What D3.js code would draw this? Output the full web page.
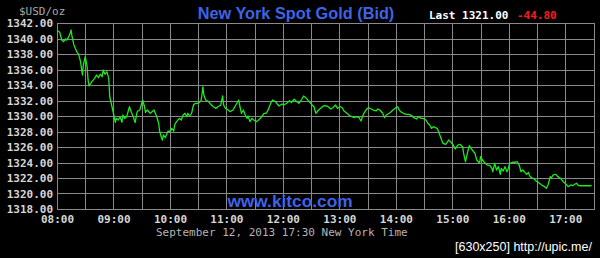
<!DOCTYPE html>
<html><head><meta charset="utf-8">
<script src="https://cdn.jsdelivr.net/npm/d3@7"></script>
<style>
html,body{margin:0;padding:0;background:#000;}
svg{display:block;}
</style></head>
<body>
<svg id="c" width="600" height="258"></svg>
<script>
const times = ["08:00","08:03","08:05","08:07","08:09","08:10","08:12","08:14","08:15","08:16","08:18","08:21","08:23","08:25","08:27","08:28","08:30","08:32","08:33","08:34","08:37","08:40","08:42","08:44","08:46","08:48","08:49","08:51","08:53","08:55","08:56","08:58","09:00","09:02","09:03","09:05","09:07","09:09","09:10","09:12","09:14","09:17","09:19","09:21","09:23","09:25","09:26","09:28","09:31","09:33","09:34","09:36","09:39","09:41","09:43","09:46","09:48","09:49","09:51","09:52","09:53","09:55","09:57","09:58","10:00","10:02","10:04","10:05","10:07","10:10","10:12","10:14","10:16","10:18","10:19","10:21","10:23","10:25","10:27","10:30","10:33","10:34","10:35","10:36","10:38","10:41","10:43","10:46","10:49","10:51","10:54","10:56","10:57","10:59","11:02","11:04","11:07","11:10","11:13","11:14","11:16","11:18","11:20","11:22","11:23","11:25","11:27","11:29","11:32","11:35","11:37","11:40","11:42","11:44","11:47","11:49","11:52","11:54","11:56","11:59","12:01","12:04","12:07","12:09","12:12","12:15","12:17","12:20","12:22","12:25","12:28","12:31","12:33","12:35","12:38","12:40","12:43","12:45","12:48","12:51","12:53","12:56","12:58","13:01","13:03","13:05","13:08","13:10","13:13","13:16","13:18","13:21","13:23","13:24","13:26","13:29","13:31","13:34","13:36","13:39","13:41","13:43","13:46","13:48","13:50","13:53","13:55","13:57","14:00","14:02","14:03","14:05","14:08","14:11","14:14","14:17","14:19","14:22","14:24","14:27","14:29","14:32","14:34","14:36","14:38","14:40","14:42","14:44","14:46","14:48","14:50","14:53","14:55","14:56","14:58","15:01","15:03","15:06","15:08","15:11","15:12","15:14","15:16","15:18","15:20","15:22","15:24","15:26","15:29","15:30","15:32","15:35","15:37","15:40","15:42","15:43","15:45","15:47","15:49","15:51","15:52","15:54","15:56","15:58","15:59","16:01","16:04","16:06","16:09","16:11","16:13","16:15","16:17","16:19","16:21","16:22","16:24","16:27","16:29","16:31","16:34","16:36","16:38","16:40","16:42","16:44","16:45","16:47","16:50","16:52","16:55","16:58","17:01","17:03","17:06","17:08","17:10","17:12","17:14","17:17","17:22","17:28"];
const prices = [1341.01,1340.80,1339.81,1339.59,1339.94,1339.81,1340.10,1340.67,1341.10,1340.23,1339.16,1338.30,1337.96,1337.01,1335.29,1336.58,1337.65,1336.36,1334.65,1333.87,1334.43,1334.86,1335.29,1334.94,1335.38,1335.07,1335.94,1335.38,1335.72,1334.86,1332.49,1331.42,1330.35,1329.19,1329.70,1329.48,1329.91,1329.19,1330.13,1329.70,1329.91,1331.20,1330.48,1329.91,1329.14,1330.48,1330.65,1330.77,1332.06,1331.20,1330.48,1330.77,1330.35,1330.56,1330.77,1329.91,1329.06,1328.06,1327.20,1326.90,1327.55,1327.20,1327.77,1328.06,1327.97,1328.41,1328.06,1328.84,1329.27,1329.70,1329.48,1330.13,1330.35,1329.91,1330.35,1330.00,1330.35,1331.42,1331.64,1331.64,1331.97,1332.71,1333.78,1332.71,1332.06,1331.85,1331.55,1331.20,1330.99,1331.20,1331.42,1332.58,1331.42,1330.99,1330.77,1330.56,1330.77,1331.42,1332.06,1331.42,1330.35,1330.77,1330.13,1329.70,1330.00,1329.27,1329.70,1329.48,1329.27,1329.57,1329.83,1330.35,1330.35,1330.68,1331.64,1332.06,1331.85,1331.55,1331.29,1331.55,1331.42,1331.64,1331.97,1331.72,1332.16,1331.85,1331.64,1332.16,1332.58,1332.28,1331.85,1331.42,1331.20,1330.35,1330.77,1330.99,1331.29,1331.33,1331.20,1330.90,1331.07,1331.42,1330.99,1331.20,1331.07,1330.65,1330.35,1330.13,1329.91,1329.78,1329.91,1329.78,1329.36,1329.70,1330.35,1330.90,1331.07,1330.90,1330.77,1330.65,1330.90,1330.77,1330.35,1329.78,1330.13,1330.35,1330.56,1330.77,1331.07,1331.20,1330.90,1330.56,1330.35,1330.22,1330.22,1330.04,1329.78,1329.61,1329.91,1329.70,1329.70,1329.48,1329.06,1328.84,1328.41,1328.62,1328.49,1328.41,1327.77,1327.12,1326.48,1326.35,1326.69,1326.90,1326.69,1326.26,1325.74,1326.26,1326.35,1326.04,1325.19,1324.10,1325.19,1326.17,1325.83,1325.48,1325.19,1324.32,1323.90,1324.75,1324.32,1323.90,1323.68,1323.59,1323.25,1322.81,1323.90,1323.03,1323.46,1322.48,1323.25,1322.90,1323.46,1322.81,1323.03,1323.90,1324.03,1324.03,1324.10,1323.68,1322.81,1323.03,1322.73,1322.48,1322.73,1322.30,1322.04,1321.87,1321.61,1321.45,1321.19,1321.01,1320.88,1320.67,1321.19,1322.17,1321.96,1322.39,1322.48,1322.17,1321.96,1321.52,1321.19,1320.88,1321.10,1321.01,1321.19,1321.32,1321.01,1321.00,1321.00,1321.00];
const yTicks = [1318,1320,1322,1324,1326,1328,1330,1332,1334,1336,1338,1340,1342];
const xTickLabels = ["08:00","09:00","10:00","11:00","12:00","13:00","14:00","15:00","16:00","17:00"];
const titleText = "New York Spot Gold (Bid)";
const lastText = "Last 1321.00";
const changeText = "-44.80";
const unitText = "$USD/oz";
const siteText = "www.kitco.com";
const dateText = "September 12, 2013 17:30 New York Time";
const watermarkText = "[630x250] http://upic.me/";

const parse = d3.timeParse("%H:%M");
const data = times.map((t,i)=>({t:parse(t), v:prices[i]}));

const svg = d3.select("#c");
svg.append("rect").attr("width",600).attr("height",258).attr("fill","#000");

const L=57, R=593.5, T=23, B=209;
const x = d3.scaleTime().domain([parse("08:00"), parse("17:30")]).range([L,R]);
const y = d3.scaleLinear().domain([1318,1342]).range([B,T]);

const gridColor = "#8a8a8a";
const grid = svg.append("g").attr("stroke",gridColor).attr("stroke-width",1).attr("shape-rendering","crispEdges");
const halfHours = d3.timeMinute.every(30).range(parse("08:00"), d3.timeMinute.offset(parse("17:30"),1));
grid.selectAll("line.v").data(halfHours).join("line")
  .attr("x1",d=>Math.round(x(d))+0.5).attr("x2",d=>Math.round(x(d))+0.5)
  .attr("y1",T).attr("y2",B);
grid.selectAll("line.h").data(yTicks).join("line")
  .attr("x1",L).attr("x2",R+1)
  .attr("y1",d=>Math.round(y(d))+0.5).attr("y2",d=>Math.round(y(d))+0.5);

// site text behind line
svg.append("text").attr("x",290).attr("y",207).attr("text-anchor","middle")
  .attr("font-family","Liberation Sans, Arial, sans-serif").attr("font-weight","bold")
  .attr("font-size",17.3).attr("fill","#3f63e6").text(siteText);

const line = d3.line().x(d=>x(d.t)).y(d=>y(d.v));
svg.append("path").datum(data).attr("d",line).attr("fill","none")
  .attr("stroke","#1fe81f").attr("stroke-width",1.3).attr("stroke-linejoin","round");

const mono = "DejaVu Sans Mono, monospace";
// y axis
const yAxis = d3.axisLeft(y).tickValues(yTicks).tickFormat(d3.format(".2f")).tickSize(0).tickPadding(0);
const yg = svg.append("g").attr("transform",`translate(${L-4},0)`).call(yAxis);
yg.select(".domain").remove();
yg.selectAll("text").attr("font-family",mono).attr("font-weight","bold").attr("font-size",11)
  .attr("fill","#d6d6d6").attr("dy","0.35em");

// x axis
const xAxis = d3.axisBottom(x).tickValues(xTickLabels.map(parse)).tickFormat(d3.timeFormat("%H:%M")).tickSize(0).tickPadding(0);
const xg = svg.append("g").attr("transform",`translate(0,${B+6})`).call(xAxis);
xg.select(".domain").remove();
xg.selectAll("text").attr("font-family",mono).attr("font-weight","bold").attr("font-size",11)
  .attr("fill","#d6d6d6").attr("dy","0.75em");

// texts
svg.append("text").attr("x",19).attr("y",15).attr("font-family",mono).attr("font-size",11)
  .attr("fill","#a8a8a8").text(unitText);
svg.append("text").attr("x",296).attr("y",18.5).attr("text-anchor","middle")
  .attr("font-family","Liberation Sans, Arial, sans-serif").attr("font-weight","bold")
  .attr("font-size",16.3).attr("fill","#3f63e6").text(titleText);
svg.append("text").attr("x",429).attr("y",19).attr("font-family",mono).attr("font-weight","bold").attr("font-size",11)
  .attr("fill","#ffffff").text(lastText);
svg.append("text").attr("x",517).attr("y",19).attr("font-family",mono).attr("font-weight","bold").attr("font-size",11)
  .attr("fill","#ff1a1a").text(changeText);
svg.append("text").attr("x",156).attr("y",236).attr("font-family",mono).attr("font-size",11)
  .attr("fill","#b4b4b4").text(dateText);
svg.append("text").attr("x",455).attr("y",251).attr("font-family","Liberation Sans, Arial, sans-serif").attr("font-size",12.5)
  .attr("fill","#ffffff").text(watermarkText);
</script>
</body></html>
